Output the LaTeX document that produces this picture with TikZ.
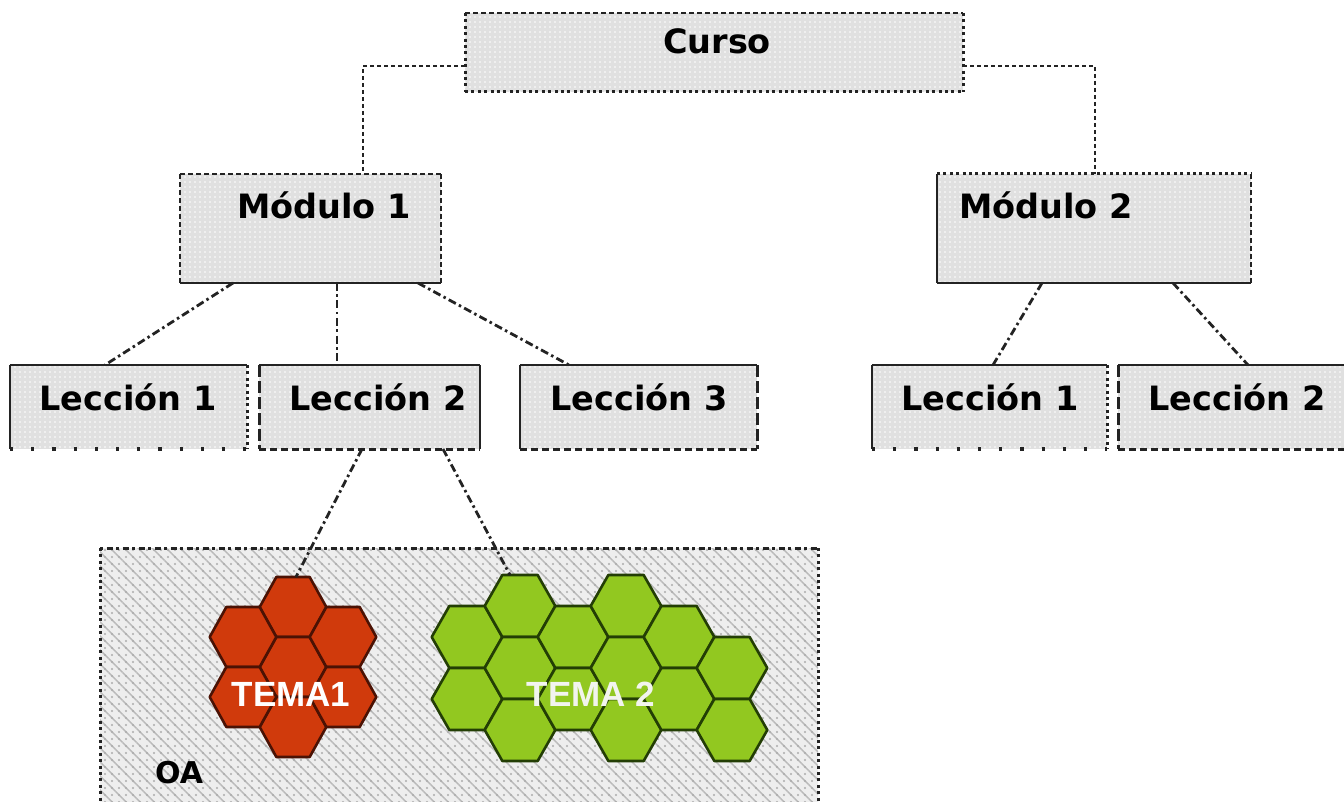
\documentclass[tikz,border=0pt]{standalone}
\usepackage{fontspec}
\setmainfont{DejaVu Sans}
\newfontfamily\hexfont{Liberation Sans}
\usetikzlibrary{patterns.meta,calc}

\definecolor{edgegray}{RGB}{35,35,35}
\definecolor{boxfill}{RGB}{224,224,224}
\definecolor{oafill}{RGB}{238,238,238}
\definecolor{redhex}{RGB}{208,58,12}
\definecolor{redrim}{RGB}{75,18,4}
\definecolor{greenhex}{RGB}{146,200,32}
\definecolor{greenrim}{RGB}{35,62,5}
\definecolor{temagray}{RGB}{242,244,238}

\tikzset{
  x=1pt, y=-1pt,
  boxbg/.style={draw=none, fill=boxfill, inner sep=0pt, outer sep=0pt,
    postaction={pattern={Dots[distance=5pt,radius=0.8pt]}, pattern color=white}},
  oabg/.style={draw=none, fill=oafill, inner sep=0pt, outer sep=0pt,
    postaction={pattern={Lines[angle=-45,distance=9.9pt,line width=1.4pt]}, pattern color=gray!55},
    postaction={pattern={Dots[distance=7pt,radius=1.2pt]}, pattern color=gray!65}},
  sld/.style={draw=edgegray, line width=2.6pt},
  fdot/.style={draw=edgegray, line width=3pt, dash pattern=on 3pt off 3.4pt},
  wdot/.style={draw=edgegray, line width=3.2pt, dash pattern=on 3.2pt off 18pt},
  fdsh/.style={draw=edgegray, line width=2.6pt, dash pattern=on 5pt off 3pt},
  ldsh/.style={draw=edgegray, line width=3pt, dash pattern=on 7pt off 4pt},
  vdsh/.style={draw=edgegray, line width=3pt, dash pattern=on 12pt off 4pt},
  mixd/.style={draw=edgegray, line width=3pt, dash pattern=on 3pt off 3.5pt on 6pt off 3.5pt},
  boxtext/.style={font=\fontsize{33.5}{40}\selectfont\bfseries, text=black, inner sep=0pt, anchor=base},
  hextext/.style={font=\hexfont\bfseries\fontsize{35}{40}\selectfont, inner sep=0pt, anchor=base},
  conntop/.style={draw=edgegray, line width=2.8pt, dash pattern=on 4pt off 3pt},
  connmid/.style={draw=edgegray, line width=2.8pt, dash pattern=on 8pt off 3.5pt on 2.5pt off 3.5pt},
  redtile/.style={fill=redhex, draw=redrim, line width=2.6pt, line join=round},
  greentile/.style={fill=greenhex, draw=greenrim, line width=2.6pt, line join=round},
}

% draw the four sides of a named box, each with its own line style
\newcommand\boxsides[5]{%
  \draw[#2] (#1.north west) -- (#1.north east);
  \draw[#3] (#1.north east) -- (#1.south east);
  \draw[#4] (#1.south west) -- (#1.south east);
  \draw[#5] (#1.north west) -- (#1.south west);}

% flat-topped hexagon: centre, half-width R, half-height a
\newcommand\hexcell[5]{%
  \draw[#1] (#2,#3) +(-#4,0) -- +(-#4/2,-#5) -- +(#4/2,-#5) -- +(#4,0) -- +(#4/2,#5) -- +(-#4/2,#5) -- cycle;}

\begin{document}
\begin{tikzpicture}
\useasboundingbox (0,0) rectangle (1344,802);
\clip (0,0) rectangle (1344,802);

% learning object area
\node[oabg, minimum width=718pt, minimum height=264pt] (oa) at (459,680) {};
\boxsides{oa}{mixd}{fdot}{fdot}{fdot}
\node[boxtext, font=\fontsize{30}{34}\selectfont\bfseries] (oat) at (179,783) {OA};

% topic 1 tiles
\foreach \cx/\cy in {293/607, 293/667, 293/727, 243/637, 243/697, 343/637, 343/697}
  {\hexcell{redtile}{\cx}{\cy}{33.3}{30}}
% topic 2 tiles
\foreach \cx/\cy in {467/637, 467/699, 520/606, 520/668, 520/730, 573/637, 573/699,
                     626/606, 626/668, 626/730, 679/637, 679/699, 732/668, 732/730}
  {\hexcell{greentile}{\cx}{\cy}{35.3}{31}}
\node[hextext, text=white] (tema1) at (291,706) {TEMA1};
\node[hextext, text=temagray] (tema2) at (591,706) {TEMA 2};
\coordinate (t1top) at (296,577);
\coordinate (t2top) at (510,575);

% boxes
\node[boxbg, minimum width=498pt, minimum height=79pt]  (cur) at (714,52.5) {};
\node[boxbg, minimum width=261pt, minimum height=109pt] (m1)  at (310.5,228.5) {};
\node[boxbg, minimum width=314pt, minimum height=109pt] (m2)  at (1094,228.5) {};
\node[boxbg, minimum width=237pt, minimum height=84pt]  (l1)  at (128.5,407) {};
\node[boxbg, minimum width=221pt, minimum height=84pt]  (l2)  at (369.5,407) {};
\node[boxbg, minimum width=237pt, minimum height=84pt]  (l3)  at (638.5,407) {};
\node[boxbg, minimum width=235pt, minimum height=84pt]  (n1)  at (989.5,407) {};
\node[boxbg, minimum width=238pt, minimum height=84pt]  (n2)  at (1237,407) {};

\boxsides{cur}{fdsh}{fdot}{fdot}{fdot}
\boxsides{m1}{fdsh}{fdsh}{sld}{fdsh}
\boxsides{m2}{fdot}{fdsh}{sld}{sld}
\boxsides{l1}{sld}{fdot}{wdot}{sld}
\boxsides{l2}{sld}{sld}{ldsh}{vdsh}
\boxsides{l3}{sld}{vdsh}{ldsh}{sld}
\boxsides{n1}{sld}{fdot}{wdot}{sld}
\boxsides{n2}{sld}{sld}{ldsh}{vdsh}

% labels
\node[boxtext] (curt) at (717,54)  {Curso};
\node[boxtext] (m1t)  at (324,219) {Módulo 1};
\node[boxtext] (m2t)  at (1046,219) {Módulo 2};
\node[boxtext] (l1t)  at (128,410) {Lección 1};
\node[boxtext] (l2t)  at (378,410) {Lección 2};
\node[boxtext] (l3t)  at (639,410) {Lección 3};
\node[boxtext] (n1t)  at (990,410) {Lección 1};
\node[boxtext] (n2t)  at (1237,410) {Lección 2};

% connectors
\draw[conntop] ([yshift=-13.5pt]cur.west) -| ([xshift=183pt]m1.north west);
\draw[conntop] ([yshift=-13.5pt]cur.east) -| ([xshift=158pt]m2.north west);
\draw[connmid] ([xshift=53pt]m1.south west)  -- ([xshift=95pt]l1.north west);
\draw[connmid] ([xshift=157pt]m1.south west) -- ([xshift=78pt]l2.north west);
\draw[connmid] ([xshift=238pt]m1.south west) -- ([xshift=49pt]l3.north west);
\draw[connmid] ([xshift=105pt]m2.south west) -- ([xshift=121pt]n1.north west);
\draw[connmid] ([xshift=236pt]m2.south west) -- ([xshift=130pt]n2.north west);
\draw[connmid] ([xshift=103pt]l2.south west) -- (t1top);
\draw[connmid] ([xshift=184pt]l2.south west) -- (t2top);
\end{tikzpicture}
\end{document}
